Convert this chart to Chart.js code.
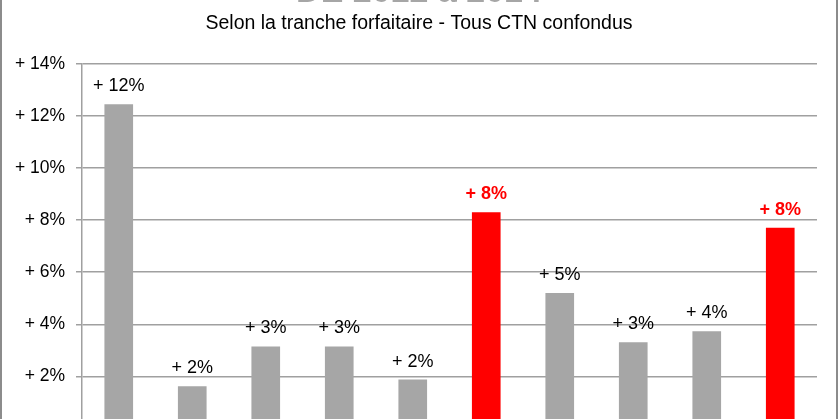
<!DOCTYPE html>
<html>
<head>
<meta charset="utf-8">
<script src="https://cdn.jsdelivr.net/npm/chart.js@4"></script>
<style>
  html, body { margin: 0; padding: 0; background: #fff; overflow: hidden; }
  #frame {
    position: absolute; left: 0; top: 0;
    width: 834px; height: 419px;
    border-left: 2px solid #8c8c8c; border-right: 2px solid #8c8c8c;
    overflow: hidden;
  }
  #wrap { position: absolute; left: 0; top: -30px; width: 834px; height: 480px; }
</style>
</head>
<body>
<div id="frame"><div id="wrap"><canvas id="myChart"></canvas></div></div>
<script>
const categories = ['T1', 'T2', 'T3', 'T4', 'T5', 'Total A', 'T6', 'T7', 'T8', 'Total B'];
const evolution = [12.45, 1.62, 3.15, 3.15, 1.88, 8.3, 5.2, 3.31, 3.73, 7.71];
const highlighted = [5, 9];
const yTicks = [0, 2, 4, 6, 8, 10, 12, 14];

const FONT = '"Liberation Sans", Arial, sans-serif';

// labels "+ x%" above each bar
const barLabels = {
  id: 'barLabels',
  afterDatasetsDraw(chart) {
    const ctx = chart.ctx;
    const meta = chart.getDatasetMeta(0);
    ctx.save();
    ctx.textAlign = 'center';
    ctx.textBaseline = 'alphabetic';
    meta.data.forEach(function (bar, i) {
      const hl = highlighted.includes(i);
      ctx.font = (hl ? 'bold ' : '') + '18px ' + FONT;
      ctx.fillStyle = hl ? '#ff0000' : '#000000';
      ctx.fillText('+ ' + Math.round(evolution[i]) + '%', bar.x, bar.y - 13);
    });
    ctx.restore();
  }
};

const ctx = document.getElementById('myChart').getContext('2d');
new Chart(ctx, {
  type: 'bar',
  data: {
    labels: categories,
    datasets: [{
      data: evolution,
      backgroundColor: evolution.map((v, i) => highlighted.includes(i) ? '#ff0000' : '#a6a6a6'),
      borderWidth: 0,
      categoryPercentage: 1,
      barPercentage: 0.39
    }]
  },
  options: {
    responsive: true,
    maintainAspectRatio: false,
    animation: false,
    layout: { padding: 0 },
    plugins: {
      legend: { display: false },
      tooltip: { enabled: false },
      title: {
        display: true,
        text: 'DE 2012 à 2014',
        color: '#a6a6a6',
        font: { family: FONT, size: 34, weight: 'bold', lineHeight: 1.1 },
        padding: { top: 4, bottom: 0 }
      },
      subtitle: {
        display: true,
        text: 'Selon la tranche forfaitaire - Tous CTN confondus',
        color: '#000',
        font: { family: FONT, size: 19.5, lineHeight: 1.2 },
        padding: { top: 1, bottom: 28 }
      }
    },
    scales: {
      x: {
        ticks: { display: false },
        grid: { display: false },
        border: { display: false }
      },
      y: {
        min: 0,
        max: 14,
        afterFit(scale) { scale.width = 80; },
        afterBuildTicks(scale) { scale.ticks = yTicks.map(v => ({ value: v })); },
        ticks: {
          color: '#000',
          font: { family: FONT, size: 17.5 },
          padding: 11,
          callback: v => v === 0 ? '0%' : '+ ' + v + '%'
        },
        grid: { color: '#a0a0a0', lineWidth: 1.5, tickLength: 6 },
        border: { color: '#a0a0a0', width: 1.5 }
      },
      // empty right axis, keeps the white margin on the right of the plot
      yRight: {
        position: 'right',
        min: 0,
        max: 14,
        afterFit(scale) { scale.width = 19; },
        ticks: { display: false },
        grid: { display: false },
        border: { display: false }
      }
    }
  },
  plugins: [barLabels]
});
</script>
</body>
</html>
